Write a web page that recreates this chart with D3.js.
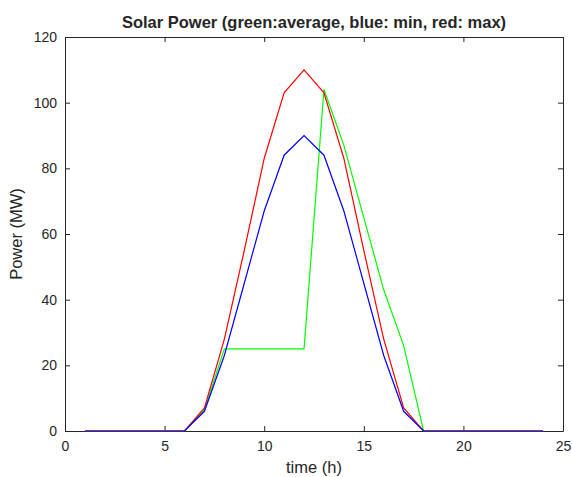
<!DOCTYPE html>
<html>
<head>
<meta charset="utf-8">
<script src="https://cdn.jsdelivr.net/npm/d3@7"></script>
<style>
  body { margin: 0; background: #fff; }
  text { font-family: "Liberation Sans", Arial, sans-serif; fill: #262626; }
</style>
</head>
<body>
<svg id="chart"></svg>
<script>
const hours = d3.range(1, 25);
const avgPower = [0,0,0,0,0,0,6.5,25,25,25,25,25,104,87,65,43,26,0,0,0,0,0,0,0];
const minPower = [0,0,0,0,0,0,6,23,45,67,84,90,84,67,45,23,6,0,0,0,0,0,0,0];
const maxPower = [0,0,0,0,0,0,7,28,55,83,103,110,103,83,55,28,7,0,0,0,0,0,0,0];
const xTicks = [0, 5, 10, 15, 20, 25];
const yTicks = [0, 20, 40, 60, 80, 100, 120];

const width = 572, height = 477;
const margin = {top: 37, right: 9, bottom: 46, left: 65};
const w = width - margin.left - margin.right;
const h = height - margin.top - margin.bottom;

const svg = d3.select("#chart")
    .attr("width", width)
    .attr("height", height);

const g = svg.append("g")
    .attr("transform", `translate(${margin.left},${margin.top})`);

const x = d3.scaleLinear().domain([0, 25]).range([0, w]);
const y = d3.scaleLinear().domain([0, 120]).range([h, 0]);

// axes, MATLAB style: ticks inside, box all round
const axisStyle = sel => {
    sel.select(".domain").attr("stroke", "#262626");
    sel.selectAll(".tick line").attr("stroke", "#262626");
    sel.selectAll(".tick text").style("font-size", "14px").attr("fill", "#262626");
};

g.append("g")
    .attr("transform", `translate(0,${h})`)
    .call(d3.axisBottom(x).tickValues(xTicks).tickSizeInner(-5).tickSizeOuter(0).tickPadding(10))
    .call(axisStyle);
g.append("g")
    .call(d3.axisTop(x).tickValues(xTicks).tickSizeInner(-5).tickSizeOuter(0).tickFormat(""))
    .call(axisStyle);
g.append("g")
    .call(d3.axisLeft(y).tickValues(yTicks).tickSizeInner(-5).tickSizeOuter(0).tickPadding(8))
    .call(axisStyle);
g.append("g")
    .attr("transform", `translate(${w},0)`)
    .call(d3.axisRight(y).tickValues(yTicks).tickSizeInner(-5).tickSizeOuter(0).tickFormat(""))
    .call(axisStyle);

const line = d3.line()
    .x((d, i) => x(hours[i]))
    .y(d => y(d));

const series = [
    {values: avgPower, color: "#00ff00"},
    {values: maxPower, color: "#ff0000"},
    {values: minPower, color: "#0000ff"}
];

g.selectAll("path.series")
    .data(series)
    .enter()
    .append("path")
    .attr("class", "series")
    .attr("d", d => line(d.values))
    .attr("fill", "none")
    .attr("stroke", d => d.color)
    .attr("stroke-width", 1.2);

svg.append("text")
    .attr("x", margin.left + w / 2)
    .attr("y", 28)
    .attr("text-anchor", "middle")
    .style("font-size", "16.5px")
    .style("font-weight", "bold")
    .attr("fill", "#000")
    .text("Solar Power (green:average, blue: min, red: max)");

svg.append("text")
    .attr("x", margin.left + w / 2)
    .attr("y", 473)
    .attr("text-anchor", "middle")
    .style("font-size", "16.5px")
    .text("time (h)");

svg.append("text")
    .attr("transform", `translate(22,${margin.top + h / 2}) rotate(-90)`)
    .attr("text-anchor", "middle")
    .style("font-size", "16.5px")
    .text("Power (MW)");
</script>
</body>
</html>
